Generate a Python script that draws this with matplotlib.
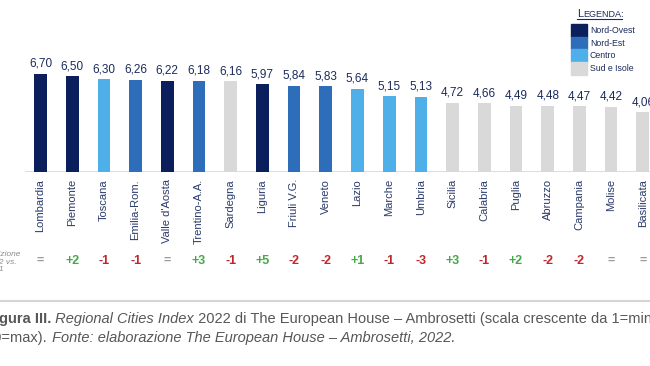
import matplotlib
matplotlib.use("Agg")
import matplotlib.pyplot as plt
from matplotlib.patches import Rectangle
from matplotlib.lines import Line2D
import matplotlib.transforms as mtransforms

plt.rcParams['font.family'] = ['Liberation Sans', 'DejaVu Sans']

regions = ['Lombardia', 'Piemonte', 'Toscana', 'Emilia-Rom.', "Valle d'Aosta",
           'Trentino-A.A.', 'Sardegna', 'Liguria', 'Friuli V.G.', 'Veneto',
           'Lazio', 'Marche', 'Umbria', 'Sicilia', 'Calabria', 'Puglia',
           'Abruzzo', 'Campania', 'Molise', 'Basilicata']
scores = [6.70, 6.50, 6.30, 6.26, 6.22, 6.18, 6.16, 5.97, 5.84, 5.83,
          5.64, 5.15, 5.13, 4.72, 4.66, 4.49, 4.48, 4.47, 4.42, 4.06]
areas = ['Nord-Ovest', 'Nord-Ovest', 'Centro', 'Nord-Est', 'Nord-Ovest',
         'Nord-Est', 'Sud e Isole', 'Nord-Ovest', 'Nord-Est', 'Nord-Est',
         'Centro', 'Centro', 'Centro', 'Sud e Isole', 'Sud e Isole', 'Sud e Isole',
         'Sud e Isole', 'Sud e Isole', 'Sud e Isole', 'Sud e Isole']
changes = ['=', '+2', '-1', '-1', '=', '+3', '-1', '+5', '-2', '-2',
           '+1', '-1', '-3', '+3', '-1', '+2', '-2', '-2', '=', '=']

area_names = ['Nord-Ovest', 'Nord-Est', 'Centro', 'Sud e Isole']
area_colors = {'Nord-Ovest': '#0A1F5C', 'Nord-Est': '#2E6DBA',
               'Centro': '#4FAFE8', 'Sud e Isole': '#D9D9D9'}

navy = '#1C2B5C'
W, H = 650, 366


def fx(x):
    return x / W


def fy(y):
    return 1 - y / H


fig = plt.figure(figsize=(6.5, 3.66), dpi=100)
# axes placed so that bars line up with the reference pixels
ax = fig.add_axes([fx(25), fy(172), 1 - fx(25), 172 / H])
ax.set_xlim(-(40.5 - 25) / 31.7, (650 - 40.5) / 31.7)
ax.set_ylim(0, 172 / 14.7)

x = list(range(len(regions)))
ax.bar(x, scores, width=0.4, color=[area_colors[a] for a in areas], zorder=2)
ax.axhline(0, color='#DADADA', lw=1.3, zorder=1)

for xi, v in zip(x, scores):
    ax.annotate(f"{v:.2f}".replace('.', ','), (xi, v), xytext=(0, 3),
                textcoords='offset points', ha='center', va='bottom',
                fontsize=8.5, color=navy, annotation_clip=False)

ax.set_xticks(x)
ax.set_xticklabels(regions, rotation=90, fontsize=8, color='#2A3A6A')
ax.tick_params(axis='x', length=0, pad=5)
ax.set_yticks([])
for s in ax.spines.values():
    s.set_visible(False)

# change in position row
trans = mtransforms.blended_transform_factory(ax.transData, fig.transFigure)
for xi, c in zip(x, changes):
    if c.startswith('+'):
        col = '#45A84A'
    elif c.startswith('-'):
        col = '#C0272D'
    else:
        col = '#9A9A9A'
    ax.text(xi, fy(261), c, transform=trans, ha='center', va='center',
            fontsize=9, fontweight='bold', color=col, clip_on=False)

fig.text(fx(-15), fy(262), 'Posizione\n2022 vs.\n2021', ha='left', va='center',
         fontsize=6, style='italic', color='#8C8C8C', linespacing=1.1)

# legend
t = fig.text(fx(577), fy(17), 'L', fontsize=8, color=navy, va='baseline')
ax.annotate('EGENDA:', xy=(1, 0), xycoords=t, va='bottom', ha='left',
            fontsize=6.5, color=navy, annotation_clip=False)
fig.add_artist(Line2D([fx(577), fx(622)], [fy(19), fy(19)], color=navy, lw=0.8))
for i, name in enumerate(area_names):
    top = 24 + i * 12.7
    fig.add_artist(Rectangle((fx(571), fy(top + 12.7)), 16 / W, 12.7 / H,
                             transform=fig.transFigure, color=area_colors[name]))
    fig.text(fx(590), fy(top + 6.5), name, fontsize=6.3, color=navy,
             va='center', ha='left')

# caption
fig.add_artist(Line2D([0, 1], [fy(300.7), fy(300.7)], color='#D4D4D4', lw=1.5))

cap_col = '#575757'
lines = [
    [('Figura III.', 'normal', 'bold'),
     (' Regional Cities Index', 'italic', 'normal'),
     (' 2022 di The European House \u2013 Ambrosetti (scala crescente da 1=min e', 'normal', 'normal')],
    [('10=max).', 'normal', 'normal'),
     (' Fonte: elaborazione The European House \u2013 Ambrosetti, 2022.', 'italic', 'normal')],
]
baselines = [323, 342]
for parts, base in zip(lines, baselines):
    prev = None
    for txt, st, wt in parts:
        if prev is None:
            prev = fig.text(fx(-14), fy(base), txt, fontsize=10.5, style=st,
                            fontweight=wt, color=cap_col, va='baseline', ha='left')
        else:
            prev = ax.annotate(txt, xy=(1, 0), xycoords=prev, va='bottom', ha='left',
                               fontsize=10.5, style=st, fontweight=wt, color=cap_col,
                               annotation_clip=False)

fig.savefig('out.png', dpi=100)
